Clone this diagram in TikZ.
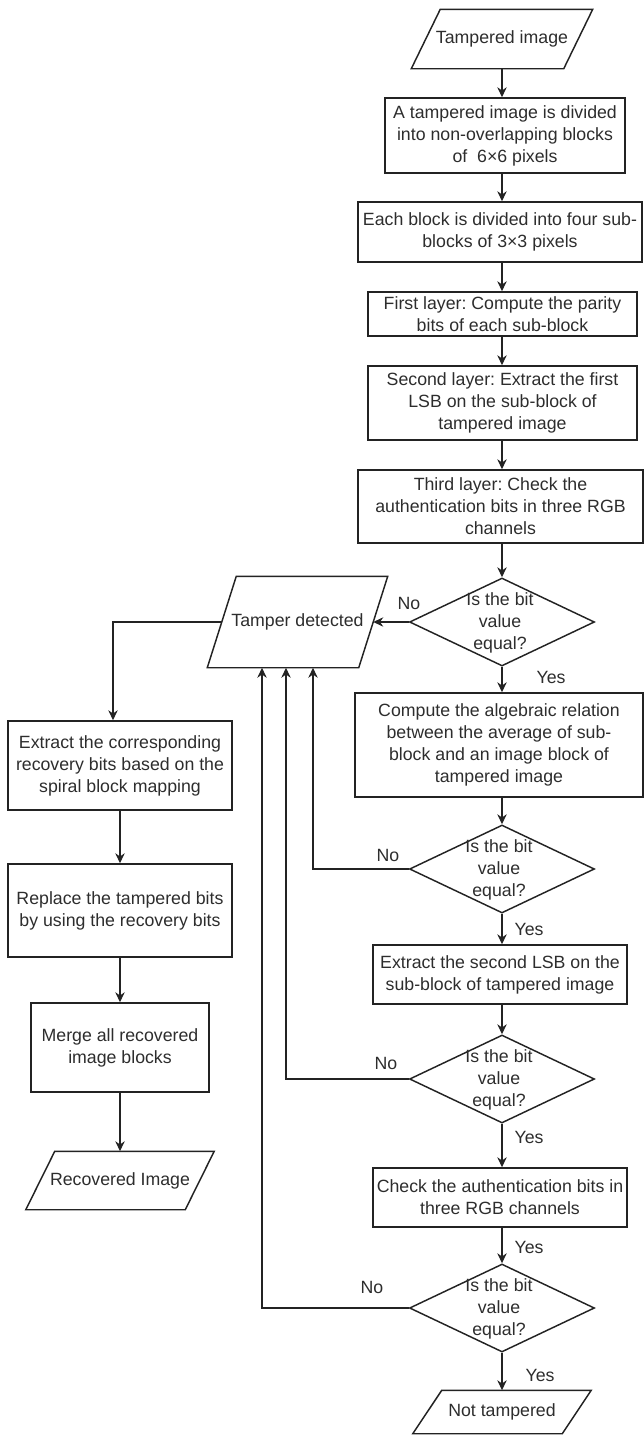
\documentclass[tikz,border=0pt]{standalone}
\usepackage{fontspec}
\setmainfont{Liberation Sans}
\usetikzlibrary{arrows.meta,shapes.geometric}
\newdimen\pxu \pxu=0.75pt
\definecolor{ln}{RGB}{35,35,35}
\definecolor{tx}{RGB}{45,45,45}
\newcommand\iosh[1]{\draw[draw=ln] ([xshift=14.5\pxu]#1.north west) -- ([xshift=14.5\pxu]#1.north east) -- ([xshift=-14.5\pxu]#1.south east) -- ([xshift=-14.5\pxu]#1.south west) -- cycle;}
\frenchspacing
\begin{document}
\frenchspacing
\begin{tikzpicture}[x=0.75pt,y=-0.75pt,line width=1.1pt,
  every node/.style={font=\fontsize{13.3}{16.5}\selectfont\frenchspacing, text=tx, align=center},
  box/.style={draw=ln, rectangle, inner sep=0pt},
  dia/.style={draw=ln, diamond, inner sep=0pt, minimum width=185\pxu, minimum height=88\pxu},
  io/.style={rectangle, inner sep=0pt},
  arr/.style={draw=ln, -{Stealth[length=7.5pt,width=7pt]}},
  lbl/.style={inner sep=0pt}]
\useasboundingbox (0,0) rectangle (643,1435);

% main column
\node[io, minimum width=151\pxu, minimum height=58\pxu] (ti) at (502,39) {Tampered image};
\iosh{ti}
\node[box, minimum width=240\pxu, minimum height=75\pxu] (b1) at (505,135.5) {A tampered image is divided\\into non-overlapping blocks\\of~ 6×6 pixels};
\node[box, minimum width=284\pxu, minimum height=60\pxu] (b2) at (500,232) {Each block is divided into four sub-\\blocks of 3×3 pixels};
\node[box, minimum width=269\pxu, minimum height=44\pxu] (b3) at (502.5,314) {First layer: Compute the parity\\bits of each sub-block};
\node[box, minimum width=269\pxu, minimum height=74\pxu] (b4) at (502.5,403) {Second layer: Extract the first\\LSB on the sub-block of\\tampered image};
\node[box, minimum width=285\pxu, minimum height=73\pxu] (b5) at (500.5,506.5) {Third layer: Check the\\authentication bits in three RGB\\channels};
\node[dia] (d1) at (502,622) {};
\node[lbl] (d1t) at (500,623) {Is the bit\\value\\equal?};
\node[box, minimum width=288\pxu, minimum height=104\pxu] (b6) at (499,745) {Compute the algebraic relation\\between the average of sub-\\block and an image block of\\tampered image};
\node[dia] (d2) at (502,869) {};
\node[lbl] (d2t) at (499,870) {Is the bit\\value\\equal?};
\node[box, minimum width=254\pxu, minimum height=59\pxu] (b7) at (500,974.5) {Extract the second LSB on the\\sub-block of tampered image};
\node[dia] (d3) at (502,1079) {};
\node[lbl] (d3t) at (499,1080) {Is the bit\\value\\equal?};
\node[box, minimum width=254\pxu, minimum height=59\pxu] (b8) at (500,1197.5) {Check the authentication bits in\\three RGB channels};
\node[dia] (d4) at (502,1308) {};
\node[lbl] (d4t) at (499,1309) {Is the bit\\value\\equal?};
\node[io, minimum width=148\pxu, minimum height=42\pxu] (nt) at (502,1412) {Not tampered};
\iosh{nt}

% tamper detected
\node[io, minimum width=150\pxu, minimum height=90\pxu] (td) at (297.5,622) {Tamper detected};
\iosh{td}

% left column
\node[box, minimum width=224\pxu, minimum height=89\pxu] (l1) at (120,765.5) {Extract the corresponding\\recovery bits based on the\\spiral block mapping};
\node[box, minimum width=224\pxu, minimum height=93\pxu] (l2) at (120,910.5) {Replace the tampered bits\\by using the recovery bits};
\node[box, minimum width=178\pxu, minimum height=89\pxu] (l3) at (120,1047.5) {Merge all recovered\\image blocks};
\node[io, minimum width=158\pxu, minimum height=57\pxu] (ri) at (120,1180.5) {Recovered Image};
\iosh{ri}

% connectors main column
\draw[arr] (ti.south) -- (ti.south |- b1.north);
\draw[arr] (ti.south |- b1.south) -- (ti.south |- b2.north);
\draw[arr] (ti.south |- b2.south) -- (ti.south |- b3.north);
\draw[arr] (ti.south |- b3.south) -- (ti.south |- b4.north);
\draw[arr] (ti.south |- b4.south) -- (ti.south |- b5.north);
\draw[arr] (ti.south |- b5.south) -- (d1.north);
\draw[arr] (d1.south) -- (d1.south |- b6.north);
\draw[arr] (d1.south |- b6.south) -- (d2.north);
\draw[arr] (d2.south) -- (d2.south |- b7.north);
\draw[arr] (d2.south |- b7.south) -- (d3.north);
\draw[arr] (d3.south) -- (d3.south |- b8.north);
\draw[arr] (d3.south |- b8.south) -- (d4.north);
\draw[arr] (d4.south) -- (nt.north);

% No branches
\draw[arr] (d1.west) -- (td.east);
\draw[arr] (d2.west) -| ([xshift=15.5\pxu]td.south);
\draw[arr] (d3.west) -| ([xshift=-11.5\pxu]td.south);
\draw[arr] (d4.west) -| ([xshift=-35.5\pxu]td.south);

% left column connectors
\draw[arr] (td.west) -| ([xshift=-7\pxu]l1.north);
\draw[arr] (l1) -- (l2);
\draw[arr] (l2) -- (l3);
\draw[arr] (l3) -- (ri);

% labels
\node[lbl] (no1) at (409,603) {No};
\node[lbl] (no2) at (388,855) {No};
\node[lbl] (no3) at (386,1063) {No};
\node[lbl] (no4) at (372,1287) {No};
\node[lbl] (y1) at (551,677) {Yes};
\node[lbl] (y2) at (529,929) {Yes};
\node[lbl] (y3) at (529,1137) {Yes};
\node[lbl] (y4) at (529,1247) {Yes};
\node[lbl] (y5) at (540,1375) {Yes};
\end{tikzpicture}
\end{document}
